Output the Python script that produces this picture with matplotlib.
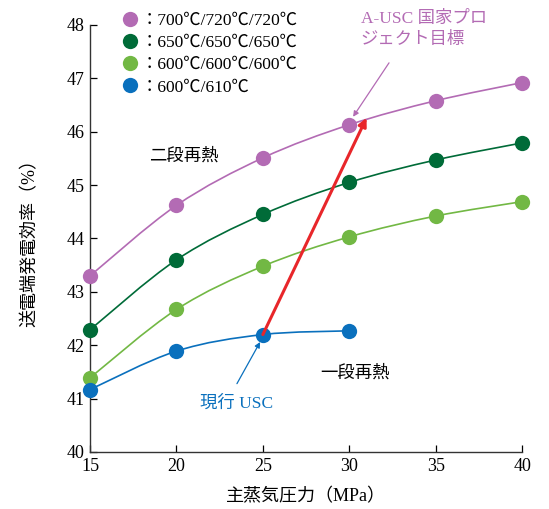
import numpy as np
import matplotlib
matplotlib.use("Agg")
import matplotlib.pyplot as plt
from matplotlib.path import Path
from matplotlib.patches import PathPatch

plt.rcParams['font.family'] = ['Liberation Serif', 'Noto Sans CJK JP', 'DejaVu Sans']

# 主蒸気圧力 (MPa)
pressure = [15, 20, 25, 30, 35, 40]
pressure_usc = [15, 20, 25, 30]

eff_700 = [43.30, 44.62, 45.51, 46.13, 46.58, 46.92]
eff_650 = [42.29, 43.60, 44.45, 45.05, 45.47, 45.79]
eff_600 = [41.39, 42.67, 43.48, 44.03, 44.42, 44.69]
eff_610 = [41.17, 41.89, 42.20, 42.27]

labels = ["：700℃/720℃/720℃", "：650℃/650℃/650℃",
          "：600℃/600℃/600℃", "：600℃/610℃"]
colors = ["#B36BB4", "#006B38", "#72B844", "#0A70BD"]

# 赤矢印 (現行USC → A-USC)
arrow_from = (25, 42.20)
arrow_to = (31.0, 46.26)


def smooth_path(x, y):
    # Catmull-Rom をベジェに変換してなめらかな曲線にする
    x = np.asarray(x, float)
    y = np.asarray(y, float)
    pts = np.column_stack([x, y])
    verts = [pts[0]]
    codes = [Path.MOVETO]
    n = len(pts)
    for i in range(n - 1):
        p0 = pts[i - 1] if i > 0 else pts[i]
        p1 = pts[i]
        p2 = pts[i + 1]
        p3 = pts[i + 2] if i + 2 < n else pts[i + 1]
        c1 = p1 + (p2 - p0) / 6.0
        c2 = p2 - (p3 - p1) / 6.0
        verts += [c1, c2, p2]
        codes += [Path.CURVE4] * 3
    return Path(verts, codes)


fig = plt.figure(figsize=(5.49, 5.09), dpi=100)
ax = fig.add_axes([0.164, 0.112, 0.787, 0.839])

series = [(pressure, eff_700), (pressure, eff_650), (pressure, eff_600),
          (pressure_usc, eff_610)]
for (xs, ys), c, lab in zip(series, colors, labels):
    ax.add_patch(PathPatch(smooth_path(xs, ys), fill=False, edgecolor=c,
                           lw=1.2, clip_on=False))
    ax.plot(xs, ys, 'o', color=c, ms=11, mec='none', label=lab,
            clip_on=False, zorder=3)

ax.annotate("", xy=arrow_to, xytext=arrow_from,
            arrowprops=dict(arrowstyle="-|>", color="#E8262A", lw=2.2,
                            mutation_scale=12, shrinkA=0, shrinkB=0))

# A-USC 目標の注記
ax.text(30.65, 48.27, "A-USC 国家プロ\nジェクト目標", color=colors[0],
        fontsize=12.5, ha="left", va="top", linespacing=1.45, clip_on=False)
ax.annotate("", xy=(30.22, 46.28), xytext=(32.3, 47.29),
            arrowprops=dict(arrowstyle="-|>", color=colors[0], lw=0.9,
                            mutation_scale=8, shrinkA=0, shrinkB=0))

# 現行 USC の注記
ax.text(23.5, 40.9, "現行 USC", color=colors[3], fontsize=12.5,
        ha="center", va="center")
ax.annotate("", xy=(24.84, 42.06), xytext=(23.5, 41.28),
            arrowprops=dict(arrowstyle="-|>", color=colors[3], lw=0.9,
                            mutation_scale=8, shrinkA=0, shrinkB=0))

ax.text(20.4, 45.53, "二段再熱", fontsize=12.5, ha="center", va="center")
ax.text(30.35, 41.48, "一段再熱", fontsize=12.5, ha="center", va="center")

ax.set_xlim(15, 40)
ax.set_ylim(40, 48)
ax.set_xticks(pressure)
ax.set_yticks(range(40, 49))
ax.tick_params(direction="in", labelsize=13, length=5, width=0.9, pad=4)
for s in ["top", "right"]:
    ax.spines[s].set_visible(False)
for s in ["left", "bottom"]:
    ax.spines[s].set_linewidth(1.0)
    ax.spines[s].set_color("#333333")

ax.set_xlabel("主蒸気圧力（MPa）", fontsize=13, labelpad=10)
ax.set_ylabel("送電端発電効率（%）", fontsize=13, labelpad=20)

ax.legend(loc="upper left", bbox_to_anchor=(0.06, 1.045), frameon=False,
          handlelength=0.8, handletextpad=0.2, labelspacing=0.35,
          fontsize=12.5, borderaxespad=0)

fig.savefig("out.png", dpi=100)
